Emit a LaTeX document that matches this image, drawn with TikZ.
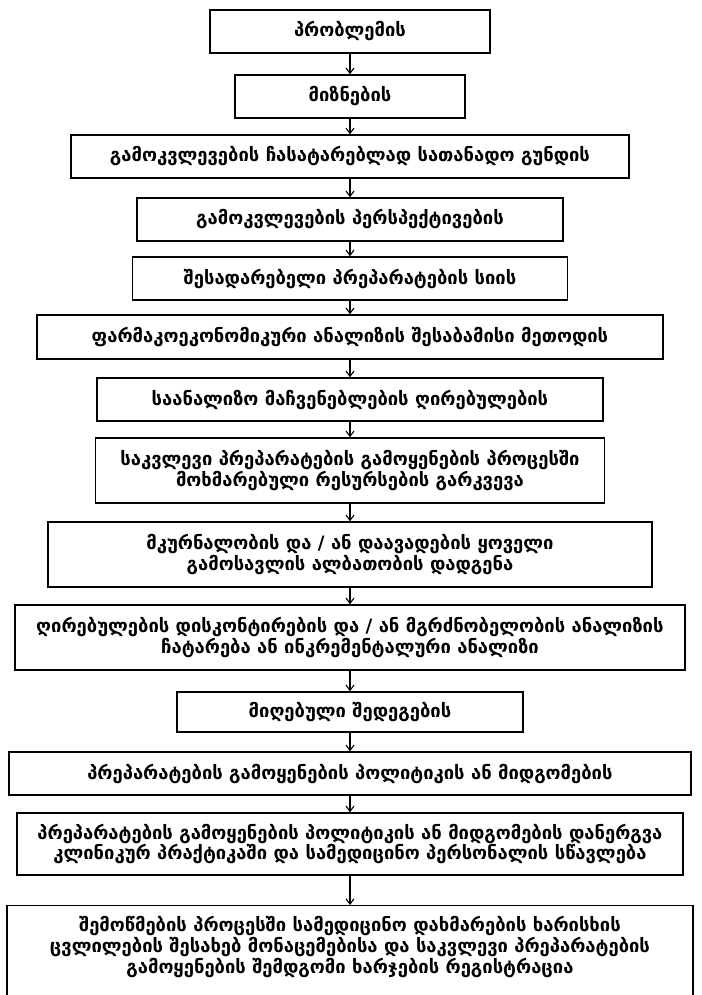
\documentclass[tikz,border=0pt]{standalone}
\usepackage{fontspec}
\newfontfamily\geo{DejaVu Sans}
\usetikzlibrary{arrows.meta}
\begin{document}
\begin{tikzpicture}[x=0.75pt,y=-0.75pt,
    box/.style={draw, line width=1.1pt, align=center, inner sep=0pt,
      font=\geo\bfseries\fontsize{13.8}{15.5}\selectfont},
    flow/.style={-{Straight Barb[length=4pt,width=6pt]}, line width=0.8pt}]
    \useasboundingbox (0,0) rectangle (701,995);

    \node[box, minimum width=210pt, minimum height=32.25pt] (problem) at (350,31.5) {პრობლემის};
    \node[box, minimum width=172.5pt, minimum height=32.25pt] (goals) at (350,96.5) {მიზნების};
    \node[box, minimum width=418.5pt, minimum height=32.25pt] (team) at (350,156.5) {გამოკვლევების ჩასატარებლად სათანადო გუნდის};
    \node[box, minimum width=319.5pt, minimum height=32.25pt] (persp) at (350,219.5) {გამოკვლევების პერსპექტივების};
    \node[box, minimum width=326.25pt, minimum height=32.25pt] (list) at (350,278.5) {შესადარებელი პრეპარატების სიის};
    \node[box, minimum width=469.5pt, minimum height=33pt] (method) at (350,337) {ფარმაკოეკონომიკური ანალიზის შესაბამისი მეთოდის};
    \node[box, minimum width=379.5pt, minimum height=32.25pt] (costs) at (350,399.5) {საანალიზო მაჩვენებლების ღირებულების};
    \node[box, minimum width=381.75pt, minimum height=48.75pt] (resources) at (350,470.5)
        {საკვლევი პრეპარატების გამოყენების პროცესში\\ მოხმარებული რესურსების გარკვევა};
    \node[box, minimum width=453pt, minimum height=48.75pt] (outcome) at (350,554.5)
        {მკურნალობის და / ან დაავადების ყოველი\\ გამოსავლის ალბათობის დადგენა};
    \node[box, minimum width=502.5pt, minimum height=48.75pt] (discount) at (350,637.5)
        {ღირებულების დისკონტირების და / ან მგრძნობელობის ანალიზის\\ ჩატარება ან ინკრემენტალური ანალიზი};
    \node[box, minimum width=259.5pt, minimum height=30pt] (results) at (350,712) {მიღებული შედეგების};
    \node[box, minimum width=511.5pt, minimum height=32.25pt] (policy) at (350,773.5) {პრეპარატების გამოყენების პოლიტიკის ან მიდგომების};
    \node[box, minimum width=499.5pt, minimum height=46.5pt] (training) at (350,844)
        {პრეპარატების გამოყენების პოლიტიკის ან მიდგომების დანერგვა\\ კლინიკურ პრაქტიკაში და სამედიცინო პერსონალის სწავლება};
    \node[box, minimum width=514.5pt, inner ysep=8pt, text depth=60pt, anchor=north] (monitoring) at (350,905)
        {შემოწმების პროცესში სამედიცინო დახმარების ხარისხის\\ ცვლილების შესახებ მონაცემებისა და საკვლევი პრეპარატების\\ გამოყენების შემდგომი ხარჯების რეგისტრაცია};

    % arrows between the steps
    \foreach \a/\b in {problem/goals, goals/team, team/persp, persp/list, list/method,
        method/costs, costs/resources, resources/outcome, outcome/discount,
        discount/results, results/policy, policy/training, training/monitoring}
        \draw[flow] (\a) -- (\b);
\end{tikzpicture}
\end{document}
